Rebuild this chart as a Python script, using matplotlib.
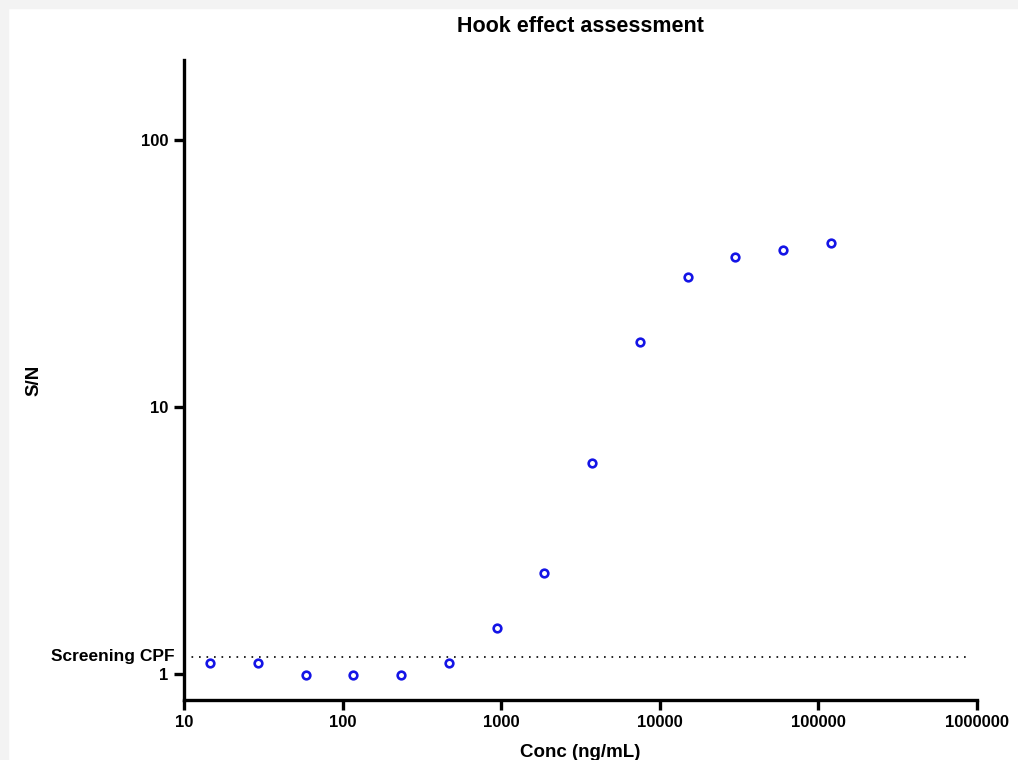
import matplotlib

matplotlib.use("Agg")

import matplotlib.pyplot as plt
from matplotlib.patches import Rectangle
from matplotlib.ticker import FixedLocator, NullLocator, FixedFormatter

plt.rcParams["font.family"] = ["Liberation Sans", "DejaVu Sans"]
plt.rcParams["font.weight"] = "bold"

# serial 2-fold dilutions, ng/mL
conc = [14.65, 29.3, 58.6, 117.2, 234.4, 468.8, 937.5, 1875, 3750, 7500, 15000, 30000, 60000, 120000]
sn = [1.10, 1.10, 0.99, 0.99, 0.99, 1.10, 1.49, 2.39, 6.19, 17.5, 30.9, 36.7, 38.7, 41.4]
cpf = 1.16
cpf_span = [10, 920000]
x_ticks = [10, 100, 1000, 10000, 100000, 1000000]
x_labels = ["10", "100", "1000", "10000", "100000", "1000000"]
y_ticks = [1, 10, 100]
y_labels = ["1", "10", "100"]

fig = plt.figure(figsize=(10.18, 7.6), dpi=100)
# light grey frame strip along top and left like the screenshot
fig.patches.append(Rectangle((0, 0.989), 1, 0.011, transform=fig.transFigure, color="#f3f3f3", zorder=0))
fig.patches.append(Rectangle((0, 0), 0.008, 1, transform=fig.transFigure, color="#f3f3f3", zorder=0))

ax = fig.add_axes([0.1807, 0.0789, 0.779, 0.842])

ax.plot(conc, sn, linestyle="none", marker="o", markersize=5.5, markerfacecolor="white",
        markeredgecolor="#1414e6", markeredgewidth=1.9, zorder=3)
ax.plot(cpf_span, [cpf, cpf], linestyle=(0, (1, 3.5)), color="black", linewidth=1.2, zorder=2)

ax.set_xscale("log")
ax.set_yscale("log")
ax.set_xlim(10, 1000000)
ax.set_ylim(0.8, 200)

ax.xaxis.set_major_locator(FixedLocator(x_ticks))
ax.xaxis.set_major_formatter(FixedFormatter(x_labels))
ax.xaxis.set_minor_locator(NullLocator())
ax.yaxis.set_major_locator(FixedLocator(y_ticks))
ax.yaxis.set_major_formatter(FixedFormatter(y_labels))
ax.yaxis.set_minor_locator(NullLocator())

for side in ("top", "right"):
    ax.spines[side].set_visible(False)
for side in ("left", "bottom"):
    ax.spines[side].set_linewidth(2.4)
ax.tick_params(axis="both", direction="out", length=7, width=2.4, labelsize=12, pad=4)
for lbl in ax.get_xticklabels() + ax.get_yticklabels():
    lbl.set_fontweight("bold")

ax.text(-0.012, cpf, "Screening CPF", transform=ax.get_yaxis_transform(), ha="right", va="center",
        fontsize=12.5, fontweight="bold")

ax.set_xlabel("Conc (ng/mL)", fontsize=13.5, fontweight="bold", labelpad=10)
ax.set_ylabel("S/N", fontsize=13.5, fontweight="bold")
ax.yaxis.set_label_coords(-0.178, 0.5)
ax.set_title("Hook effect assessment", fontsize=15.5, fontweight="bold", pad=20)

fig.savefig("out.png", dpi=100)
